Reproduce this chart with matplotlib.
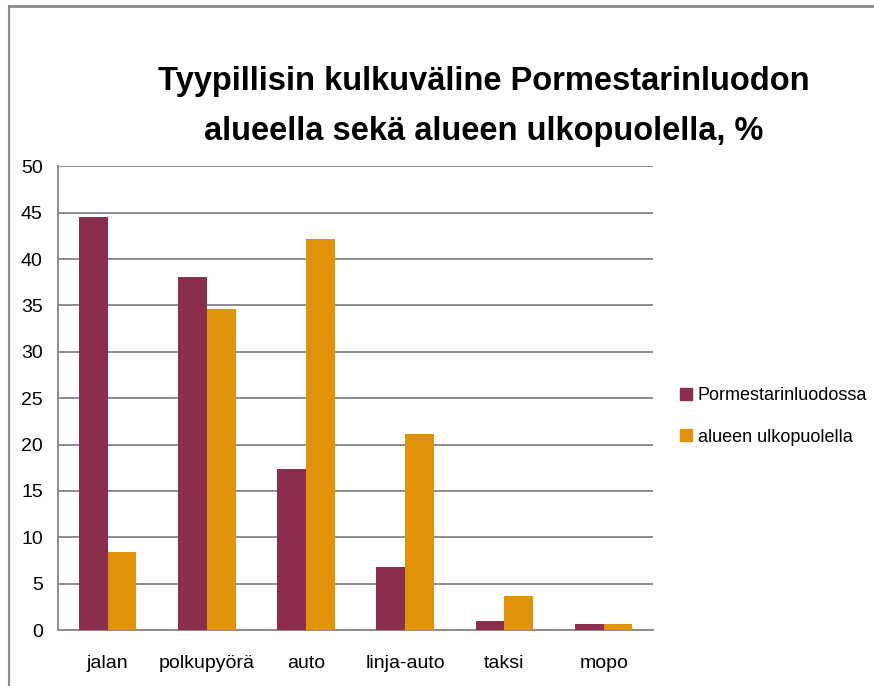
import numpy as np
import matplotlib
matplotlib.use("Agg")
import matplotlib.pyplot as plt
from matplotlib.lines import Line2D

plt.rcParams["font.family"] = ["Liberation Sans", "DejaVu Sans"]

categories = ["jalan", "polkupyörä", "auto", "linja-auto", "taksi", "mopo"]
pormestarinluodossa = [44.5, 38.1, 17.4, 6.8, 1.0, 0.7]
ulkopuolella = [8.4, 34.6, 42.2, 21.1, 3.7, 0.7]
series_names = ["Pormestarinluodossa", "alueen ulkopuolella"]
yticks = list(range(0, 55, 5))
title_lines = ["Tyypillisin kulkuväline Pormestarinluodon",
               "alueella sekä alueen ulkopuolella, %"]

MAROON = "#8b2d4c"
ORANGE = "#e0930a"
GRID = "#8c8c8c"

fig = plt.figure(figsize=(8.74, 6.86), dpi=100)
ax = fig.add_axes([0.0664, 0.0816, 0.681, 0.676])

x = np.arange(len(categories))
w = 0.29
ax.bar(x - w / 2, pormestarinluodossa, w, color=MAROON, zorder=3, label=series_names[0])
ax.bar(x + w / 2, ulkopuolella, w, color=ORANGE, zorder=3, label=series_names[1])

ax.set_xlim(-0.5, len(categories) - 0.5)
ax.set_ylim(0, 50)
ax.set_yticks(yticks)
ax.set_xticks(x)
ax.set_xticklabels(categories, fontsize=14)
ax.yaxis.grid(True, color=GRID, lw=1.4, zorder=0)
ax.tick_params(axis="y", length=0, labelsize=14, pad=11)
ax.tick_params(axis="x", length=0, pad=18)
for s in ("top", "right"):
    ax.spines[s].set_visible(False)
for s in ("left", "bottom"):
    ax.spines[s].set_color(GRID)
    ax.spines[s].set_linewidth(1.4)

# two title lines, set by baseline
for line, yb in zip(title_lines, (0.8688, 0.7959)):
    fig.text(0.553, yb, line, ha="center", va="baseline", fontsize=23.5, weight="bold")

handles = [Line2D([], [], marker="s", ls="", color=c, markersize=9) for c in (MAROON, ORANGE)]
fig.legend(handles, series_names, loc="center left", bbox_to_anchor=(0.779, 0.393),
           frameon=False, fontsize=13, handlelength=0.6, handletextpad=0.35, labelspacing=1.35,
           borderaxespad=0, borderpad=0)

# thin frame lines along top and left edge
fig.add_artist(Line2D([0.0103, 1.0], [0.991, 0.991], color="#8a8a8a", lw=2, transform=fig.transFigure))
fig.add_artist(Line2D([0.0103, 0.0103], [0.0, 0.991], color="#8a8a8a", lw=1.5, transform=fig.transFigure))

fig.savefig("out.png", dpi=100)
